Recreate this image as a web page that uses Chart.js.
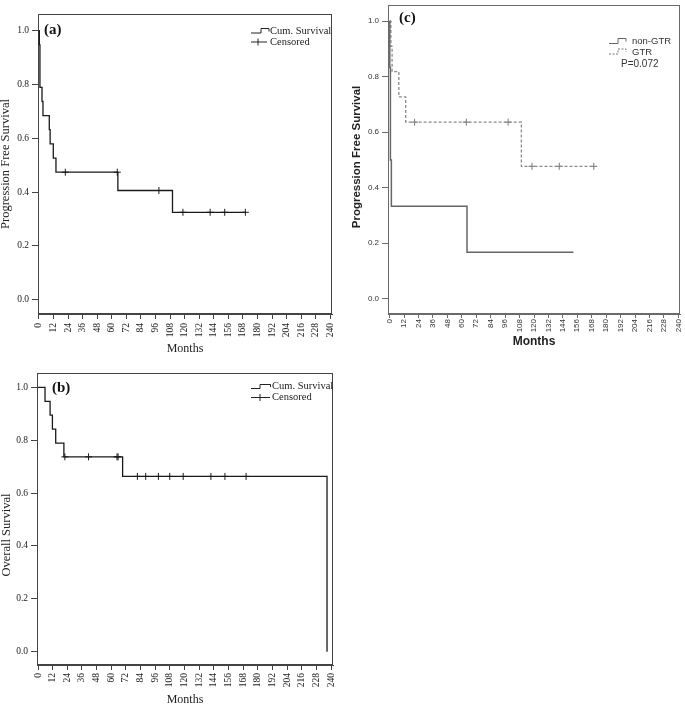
<!DOCTYPE html>
<html><head><meta charset="utf-8">
<script src="https://cdn.jsdelivr.net/npm/chart.js@4/dist/chart.umd.min.js"></script>
<style>
html,body{margin:0;padding:0;background:#fff;width:685px;height:704px;overflow:hidden}
canvas{position:absolute}
</style></head><body>
<canvas id="ca" style="left:0;top:0" width="340" height="365"></canvas>
<canvas id="cc" style="left:340px;top:0" width="345" height="365"></canvas>
<canvas id="cb" style="left:0;top:365px" width="340" height="339"></canvas>
<script>
// ---- tick labels ----
const monthTicks = [0,12,24,36,48,60,72,84,96,108,120,132,144,156,168,180,192,204,216,228,240];
const survTicks = [0.0,0.2,0.4,0.6,0.8,1.0];

// ---- (a) progression free survival, whole cohort ----
const aTimes = [0,0.3,0.8,2.5,3.3,8.5,9.2,11.8,14,65,110,170];
const aSurv  = [1.0,0.947,0.789,0.737,0.684,0.632,0.579,0.526,0.474,0.406,0.325,0.325];
const aCensTimes = [21.7,64.5,98.8,118.6,141,153,170];
const aCensSurv  = [0.474,0.474,0.406,0.325,0.325,0.325,0.325];

// ---- (b) overall survival ----
const bTimes = [0,5.75,9.9,11.8,14.5,21.2,69.3,236.7];
const bSurv  = [1.0,0.947,0.895,0.842,0.789,0.737,0.663,0.0];
const bCensTimes = [22,41.4,64.7,65.6,81.4,88.2,98.6,107.9,118.9,141.6,153.1,170.4];
const bCensSurv  = [0.737,0.737,0.737,0.737,0.663,0.663,0.663,0.663,0.663,0.663,0.663,0.663];

// ---- (c) PFS by resection ----
const nonGtrTimes = [0,0.1,0.6,1.4,64.3,152.8];
const nonGtrSurv  = [1.0,0.833,0.5,0.333,0.167,0.167];
const gtrTimes = [0,1.0,2.0,7.6,13.3,109.5,169.7];
const gtrSurv  = [1.0,0.909,0.818,0.727,0.636,0.477,0.477];
const gtrCensTimes = [20.7,63.7,98.5,118.3,141,169.7];
const gtrCensSurv  = [0.636,0.636,0.636,0.477,0.477,0.477];

const SERIF = '"Liberation Serif","Times New Roman",serif';
const SANS = '"Liberation Sans",Arial,sans-serif';

function pts(xs, ys){ return xs.map((x,i)=>({x:x, y:ys[i]})); }

function stepDs(label, xs, ys, color, width, dash){
  return {type:'line', label, data:pts(xs,ys), stepped:'before', borderColor:color,
    borderWidth:width, borderDash:dash||[], pointRadius:0, fill:false, tension:0};
}
function censDs(label, xs, ys, color){
  return {type:'scatter', label, data:pts(xs,ys), pointStyle:'cross', pointRadius:3.5,
    borderColor:color, borderWidth:1, backgroundColor:color};
}

function framePlugin(color){
  return {id:'frame', beforeDatasetsDraw(chart){
    const a = chart.chartArea, ctx = chart.ctx;
    ctx.save(); ctx.strokeStyle = color; ctx.lineWidth = 1;
    ctx.strokeRect(Math.round(a.left)+0.5, Math.round(a.top)+0.5,
      Math.round(a.right-a.left)-1, Math.round(a.bottom-a.top)-1);
    ctx.restore();
  }};
}

function textPlugin(draw){
  return {id:'txt', afterDraw(chart){ const ctx = chart.ctx; ctx.save(); draw(ctx); ctx.restore(); }};
}
function txt(ctx, s, x, y, font, color, align, rot){
  ctx.save(); ctx.font = font; ctx.fillStyle = color; ctx.textAlign = align||'left';
  ctx.textBaseline = 'middle'; ctx.translate(x,y); if(rot) ctx.rotate(rot);
  ctx.fillText(s,0,0); ctx.restore();
}
function poly(ctx, p, color, w, dash){
  ctx.save(); ctx.strokeStyle=color; ctx.lineWidth=w||1; ctx.setLineDash(dash||[]);
  ctx.beginPath(); ctx.moveTo(p[0][0],p[0][1]); for(let i=1;i<p.length;i++) ctx.lineTo(p[i][0],p[i][1]);
  ctx.stroke(); ctx.restore();
}

function makeChart(id, o){
  return new Chart(document.getElementById(id), {
    data:{datasets:o.datasets},
    options:{
      responsive:false, animation:false, devicePixelRatio:1,
      layout:{padding:{left:0, top:o.top, right:o.right, bottom:0}},
      plugins:{legend:{display:false}, tooltip:{enabled:false}},
      scales:{
        x:{type:'linear', min:o.xmin, max:o.xmax,
          afterBuildTicks:s=>{ s.ticks = monthTicks.map(v=>({value:v})); },
          afterFit:s=>{ s.height = o.xh; s.paddingLeft = 0; s.paddingRight = 0; },
          ticks:{autoSkip:false, minRotation:90, maxRotation:90, padding:o.xPad,
            font:{family:o.tickFont, size:o.xTickSize}, color:o.tickColor},
          grid:{drawOnChartArea:false, drawTicks:true, tickLength:o.xTickLen, color:o.axisColor},
          border:{display:true, color:o.axisColor, width:1}
        },
        y:{type:'linear', min:o.ymin, max:o.ymax,
          afterBuildTicks:s=>{ s.ticks = survTicks.map(v=>({value:v})); },
          afterFit:s=>{ s.width = o.yw; s.paddingTop = 0; s.paddingBottom = 0; },
          ticks:{padding:3, callback:v=>Number(v).toFixed(1),
            font:{family:o.tickFont, size:o.yTickSize}, color:o.tickColor},
          grid:{drawOnChartArea:false, drawTicks:true, tickLength:6, color:o.axisColor},
          border:{display:true, color:o.axisColor, width:1}
        }
      }
    },
    plugins:[framePlugin(o.axisColor), textPlugin(o.draw)]
  });
}

// (a)
makeChart('ca', {
  datasets:[stepDs('Cum. Survival', aTimes, aSurv, '#1a1a1a', 1.3), censDs('Censored', aCensTimes, aCensSurv, '#1a1a1a')],
  top:14, right:8, xh:51, yw:38, xmin:-0.8, xmax:241.4, ymin:-0.053, ymax:1.062,
  tickFont:SERIF, xTickSize:9.5, yTickSize:9.5, tickColor:'#222', axisColor:'#444', xPad:4, xTickLen:5,
  draw:ctx=>{
    txt(ctx,'(a)',44,30.5,'bold 15px '+SERIF,'#111');
    txt(ctx,'Progression Free Survival',6,164,'12.5px '+SERIF,'#222','center',-Math.PI/2);
    txt(ctx,'Months',185,349,'12px '+SERIF,'#222','center');
    poly(ctx,[[251,33],[261,33],[261,28.5],[269,28.5],[269,31.5]],'#222',1);
    txt(ctx,'Cum. Survival',270,31,'10.5px '+SERIF,'#222');
    poly(ctx,[[251,42],[267,42]],'#222',1);
    poly(ctx,[[258,38.5],[258,45.5]],'#222',1);
    txt(ctx,'Censored',270,42,'10.5px '+SERIF,'#222');
  }
});

// (c)
makeChart('cc', {
  datasets:[stepDs('non-GTR', nonGtrTimes, nonGtrSurv, '#666', 1.5),
            stepDs('GTR', gtrTimes, gtrSurv, '#8a8a8a', 1.3, [3,2]),
            censDs('GTR censored', gtrCensTimes, gtrCensSurv, '#777')],
  top:2, right:3, xh:51, yw:48, xmin:-1.4, xmax:241.4, ymin:-0.055, ymax:1.058,
  tickFont:SANS, xTickSize:8, yTickSize:8, tickColor:'#333', axisColor:'#6a6a6a', xPad:1, xTickLen:4,
  draw:ctx=>{
    txt(ctx,'(c)',59,18,'bold 15px '+SERIF,'#111');
    txt(ctx,'Progression Free Survival',16.5,157,'bold 11.5px '+SANS,'#222','center',-Math.PI/2);
    txt(ctx,'Months',194,342,'bold 12px '+SANS,'#222','center');
    poly(ctx,[[269,43.5],[278,43.5],[278,38.5],[286,38.5],[286,41.5]],'#666',1);
    txt(ctx,'non-GTR',292,41.5,'9.5px '+SANS,'#333');
    poly(ctx,[[269,54],[278,54],[278,49],[286,49],[286,52]],'#777',1,[2,1.5]);
    txt(ctx,'GTR',292,52.5,'9.5px '+SANS,'#333');
    txt(ctx,'P=0.072',281,64,'10px '+SANS,'#333');
  }
});

// (b)
makeChart('cb', {
  datasets:[stepDs('Cum. Survival', bTimes, bSurv, '#1a1a1a', 1.3), censDs('Censored', bCensTimes, bCensSurv, '#1a1a1a')],
  top:8, right:7, xh:39, yw:37, xmin:-0.82, xmax:241.6, ymin:-0.050, ymax:1.054,
  tickFont:SERIF, xTickSize:9.5, yTickSize:9.5, tickColor:'#222', axisColor:'#444', xPad:3, xTickLen:5,
  draw:ctx=>{
    txt(ctx,'(b)',52,23,'bold 15px '+SERIF,'#111');
    txt(ctx,'Overall Survival',6.5,170,'12.5px '+SERIF,'#222','center',-Math.PI/2);
    txt(ctx,'Months',185,335,'12px '+SERIF,'#222','center');
    poly(ctx,[[251,23.5],[260,23.5],[260,19.5],[270.5,19.5],[270.5,22]],'#222',1);
    txt(ctx,'Cum. Survival',272,21.5,'10.5px '+SERIF,'#222');
    poly(ctx,[[251,32.5],[270,32.5]],'#222',1);
    poly(ctx,[[260,29],[260,36]],'#222',1);
    txt(ctx,'Censored',272,32.5,'10.5px '+SERIF,'#222');
  }
});
</script>
</body></html>
